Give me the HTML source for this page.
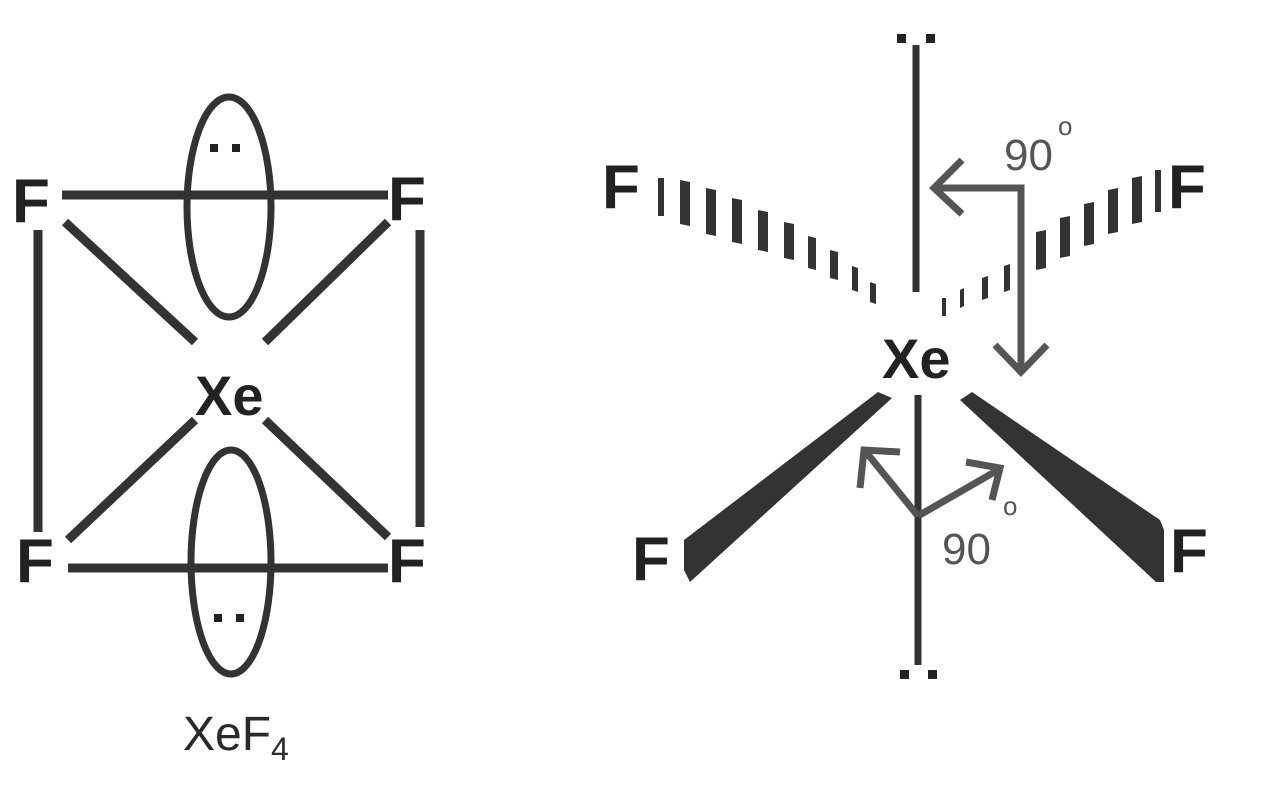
<!DOCTYPE html>
<html><head><style>body{margin:0;background:#fff}svg{display:block}</style></head>
<body>
<svg width="1280" height="792" viewBox="0 0 1280 792" xmlns="http://www.w3.org/2000/svg">
<g stroke="#333" stroke-width="9" fill="none" stroke-linecap="butt">
<line x1="62" y1="195" x2="388" y2="195"/>
<line x1="68" y1="568" x2="388" y2="568"/>
<line x1="38" y1="230" x2="38" y2="532"/>
<line x1="420" y1="230" x2="420" y2="527"/>
<line x1="65" y1="222" x2="195" y2="342"/>
<line x1="388" y1="222" x2="265" y2="342"/>
<line x1="195" y1="420" x2="68" y2="540"/>
<line x1="265" y1="420" x2="388" y2="537"/>
<ellipse cx="229" cy="207" rx="42" ry="110" stroke-width="7"/>
<ellipse cx="231" cy="562" rx="40" ry="112" stroke-width="7"/>
<line x1="916" y1="45" x2="916" y2="292" stroke-width="7"/>
<line x1="918" y1="395" x2="918" y2="665" stroke-width="7"/>
</g>
<g fill="#222">
<rect x="210" y="144" width="8" height="8"/><rect x="232" y="144" width="8" height="8"/>
<rect x="214" y="614" width="8" height="8"/><rect x="236" y="614" width="8" height="8"/>
<rect x="897" y="34" width="9" height="9"/><rect x="926" y="34" width="9" height="9"/>
<rect x="900" y="670" width="9" height="9"/><rect x="928" y="670" width="9" height="9"/>
</g>
<g font-family="Liberation Sans, sans-serif" font-weight="bold" fill="#222" font-size="62">
<text x="12" y="222">F</text><text x="388" y="220">F</text>
<text x="16" y="582">F</text><text x="388" y="582">F</text>
<text x="195" y="415" font-size="56">Xe</text>
<text x="602" y="208">F</text><text x="1168" y="208">F</text>
<text x="632" y="580">F</text><text x="1170" y="572">F</text>
<text x="882" y="378" font-size="56">Xe</text>
</g>
<text x="183" y="750" font-family="Liberation Sans, sans-serif" font-size="48" fill="#2a2a2a">XeF<tspan font-size="32" dy="10">4</tspan></text>
<g fill="#333">
<polygon points="658,178 664,178 664,216 658,216"/>
<polygon points="680,180 690,182 690,226 680,224"/>
<polygon points="706,188 716,190 716,236 706,234"/>
<polygon points="732,198 742,200 742,244 732,242"/>
<polygon points="758,210 768,212 768,252 758,250"/>
<polygon points="784,222 794,224 794,260 784,258"/>
<polygon points="808,236 816,238 816,270 808,268"/>
<polygon points="830,250 838,252 838,280 830,278"/>
<polygon points="852,266 858,268 858,292 852,290"/>
<polygon points="870,282 876,284 876,304 870,302"/>
<polygon points="1155,170 1161,170 1161,212 1155,212"/>
<polygon points="1132,178 1142,176 1142,222 1132,224"/>
<polygon points="1108,190 1118,188 1118,232 1108,234"/>
<polygon points="1084,204 1094,202 1094,244 1084,246"/>
<polygon points="1060,218 1070,216 1070,256 1060,258"/>
<polygon points="1036,232 1046,230 1046,268 1036,270"/>
<polygon points="1004,266 1010,264 1010,290 1004,292"/>
<polygon points="982,278 988,276 988,298 982,300"/>
<polygon points="960,290 964,288 964,306 960,308"/>
<polygon points="942,298 946,298 946,316 942,316"/>
<polygon points="878,392 892,398 690,582 684,570 684,540"/>
<polygon points="960,400 972,392 1160,520 1164,530 1164,582 1156,582"/>
</g>
<g stroke="#555" stroke-width="7" fill="none" stroke-linejoin="miter">
<polyline points="1021,372 1021,188 934,188"/>
<polyline points="962,160 934,188 962,214"/>
<polyline points="995,345 1021,372 1047,345"/>
<polyline points="918,516 866,452"/>
<polyline points="918,516 998,470"/>
<polyline points="860,488 864,450 900,452"/>
<polyline points="966,462 1000,468 992,500"/>
</g>
<g font-family="Liberation Sans, sans-serif" font-size="44" fill="#555">
<text x="1004" y="170">90</text><text x="1058" y="135" font-size="26">o</text>
<text x="942" y="564">90</text><text x="1003" y="515" font-size="26">o</text>
</g>
</svg>
</body></html>
